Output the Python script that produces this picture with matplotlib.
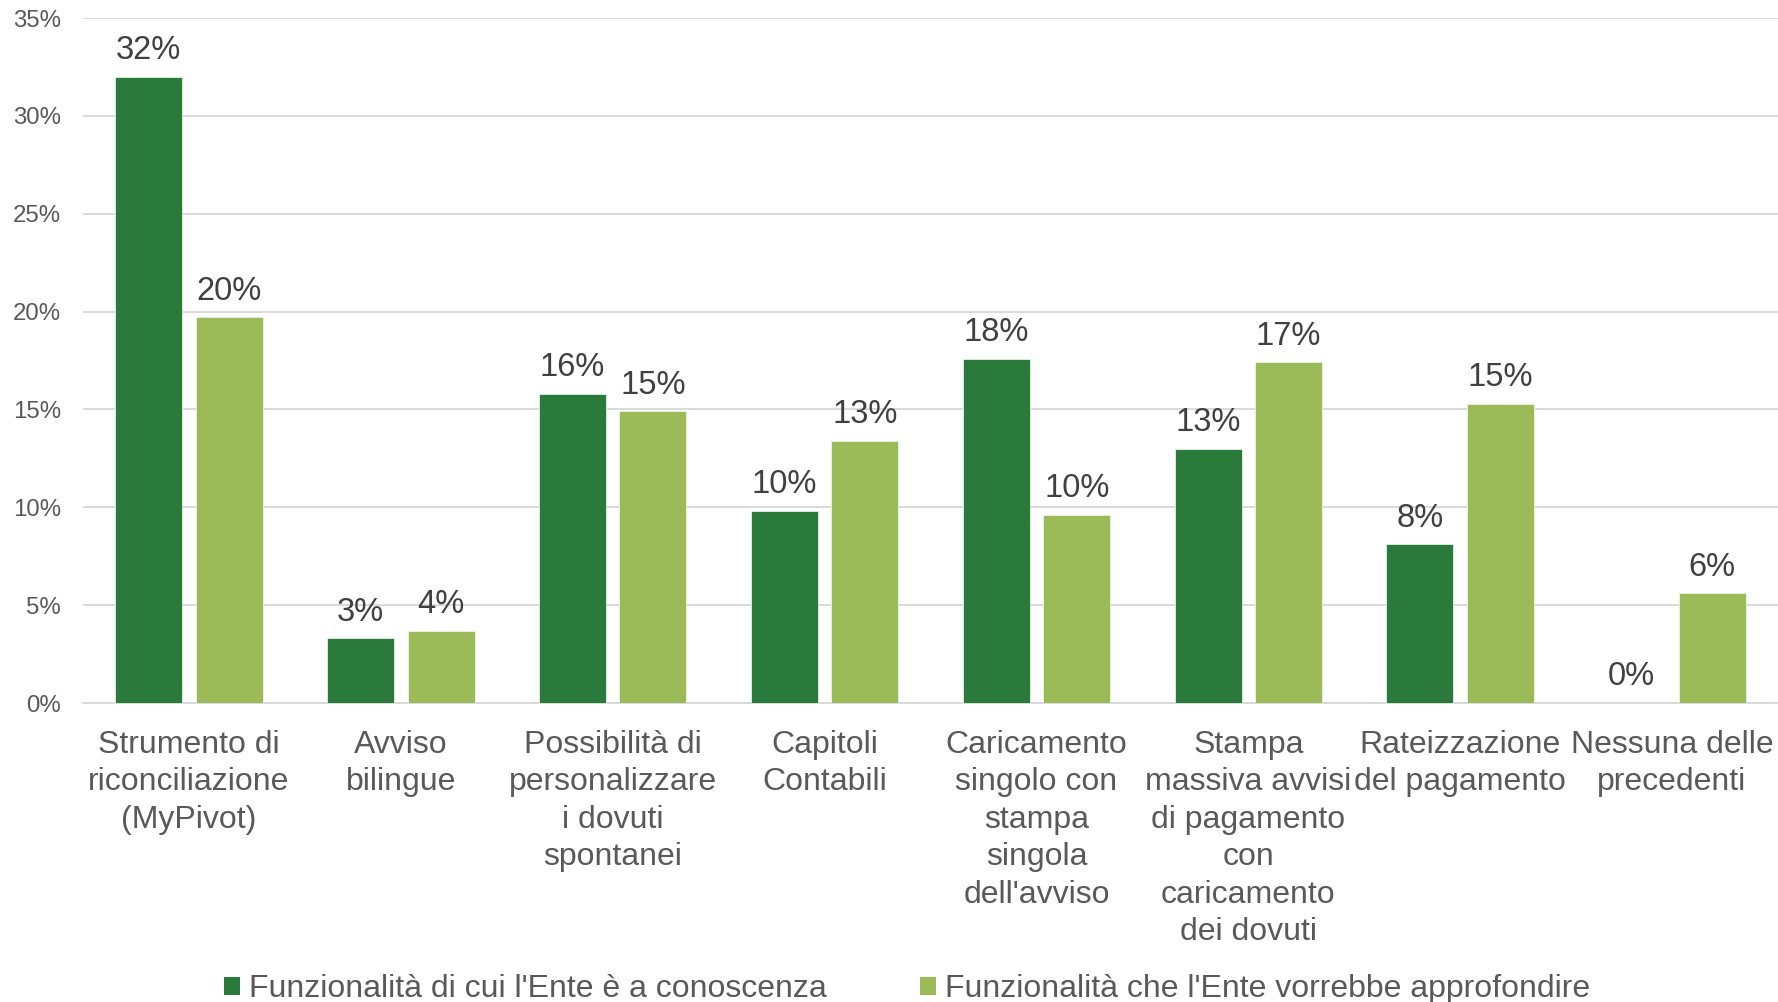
import matplotlib
matplotlib.use("Agg")
import matplotlib.pyplot as plt
import numpy as np
from matplotlib.patches import Patch

categories = [
    "Strumento di\nriconciliazione\n(MyPivot)",
    "Avviso\nbilingue",
    "Possibilità di\npersonalizzare\ni dovuti\nspontanei",
    "Capitoli\nContabili",
    "Caricamento\nsingolo con\nstampa\nsingola\ndell'avviso",
    "Stampa\nmassiva avvisi\ndi pagamento\ncon\ncaricamento\ndei dovuti",
    "Rateizzazione\ndel pagamento",
    "Nessuna delle\nprecedenti",
]
conoscenza = [32.0, 3.3, 15.8, 9.8, 17.6, 13.0, 8.1, 0.0]
approfondire = [19.7, 3.7, 14.9, 13.4, 9.6, 17.4, 15.3, 5.6]
series_names = ["Funzionalità di cui l'Ente è a conoscenza",
                "Funzionalità che l'Ente vorrebbe approfondire"]
yticks = [0, 5, 10, 15, 20, 25, 30, 35]

dark = "#2A7A3B"
light = "#9BBB59"
tick_col = "#595959"
lab_col = "#404040"

plt.rcParams['font.family'] = ['Liberation Sans', 'DejaVu Sans']

fig = plt.figure(figsize=(17.78, 10.02), dpi=100)
ax = fig.add_axes([83/1778, 1 - 703/1002, 1 - 83/1778, (703 - 18)/1002])

x = np.arange(len(categories))
w = 0.316
off = 0.19
b1 = ax.bar(x - off, conoscenza, w, color=dark, edgecolor="#e8f0e8", linewidth=0.6, zorder=3)
b2 = ax.bar(x + off, approfondire, w, color=light, edgecolor="#eef4e4", linewidth=0.6, zorder=3)

for bars, vals in ((b1, conoscenza), (b2, approfondire)):
    for r, v in zip(bars, vals):
        ax.annotate(f"{v:.0f}%", (r.get_x() + r.get_width()/2, v),
                    xytext=(0, 7.8), textcoords="offset points",
                    ha="center", va="bottom", fontsize=23.5, color=lab_col)

ax.set_xlim(-0.5, len(categories) - 0.5)
ax.set_ylim(0, 35)
ax.set_yticks(yticks)
ax.set_yticklabels([f"{t}%" for t in yticks])
ax.set_xticks(x)
ax.set_xticklabels(categories, linespacing=1.32)
ax.tick_params(axis='y', length=0, pad=16, labelsize=17.3, labelcolor=tick_col)
ax.tick_params(axis='x', length=0, pad=19.5, labelsize=23, labelcolor=tick_col)
ax.grid(axis='y', color="#d9d9d9", linewidth=1.4, zorder=0)
for s in ("top", "right", "left"):
    ax.spines[s].set_visible(False)
ax.spines["bottom"].set_color("#d9d9d9")
ax.spines["bottom"].set_linewidth(1.4)

handles = [Patch(facecolor=dark), Patch(facecolor=light)]
fig.legend(handles, series_names, loc="center", bbox_to_anchor=(907/1778, 1 - 989/1002),
           ncol=2, frameon=False, fontsize=23, labelcolor=tick_col,
           handlelength=0.5, handleheight=0.5, handletextpad=0.28, columnspacing=2.9)

fig.savefig("out.png", dpi=100)
